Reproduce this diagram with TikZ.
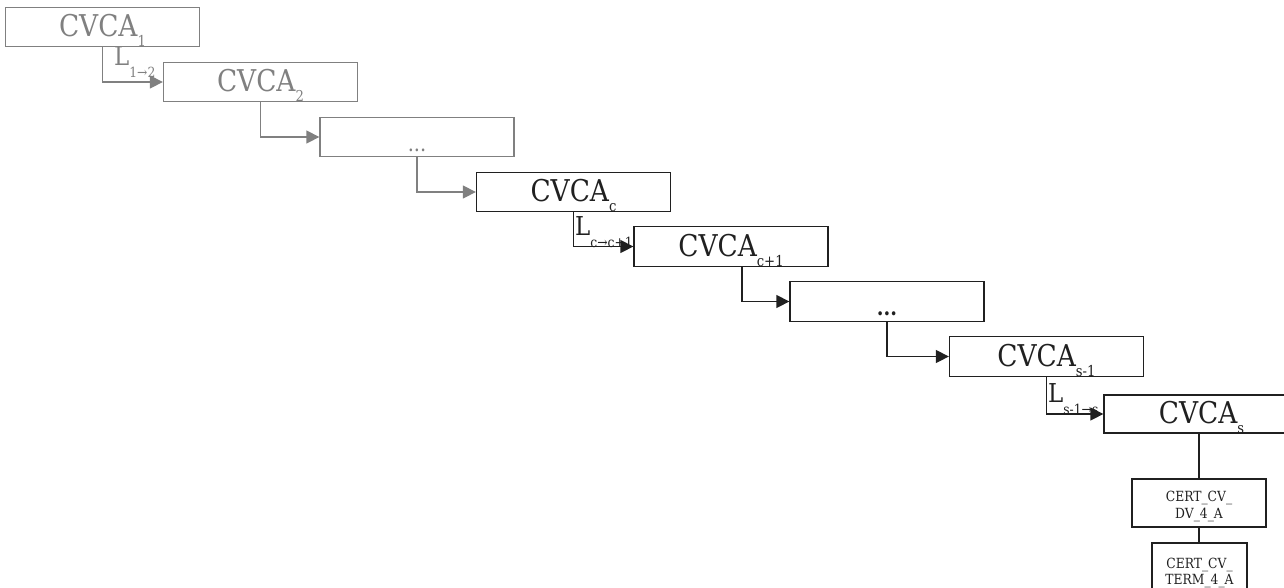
\documentclass[tikz,border=0pt]{standalone}
\usepackage{fontspec}
\setmainfont{DejaVu Serif}[FakeStretch=0.88]
\usetikzlibrary{arrows.meta}

\definecolor{faded}{HTML}{808080}
\definecolor{ink}{HTML}{202020}

% box caption: CVCA with a lowered index
\newcommand{\cvcaname}[1]{\fontsize{30}{30}\selectfont CVCA\raisebox{-10pt}{\fontsize{15}{15}\selectfont #1}}
% link label: L with a lowered index
\newcommand{\linkname}[1]{\fontsize{26}{26}\selectfont L\raisebox{-12pt}{\fontsize{14}{14}\selectfont #1}}
% tall invisible strut that pushes a two-line caption down a little
\newcommand{\capstrut}{\rule{0pt}{17pt}}

\tikzset{
  cabox/.style={draw, rectangle, inner sep=0pt, line width=1.3pt,
    minimum width=194pt, minimum height=39.5pt, text height=22pt, text depth=3pt},
  dotsbox/.style={cabox, text height=28pt, text depth=0pt, font=\fontsize{22}{22}\selectfont},
  certbox/.style={draw, rectangle, inner sep=0pt, line width=1.3pt, align=center,
    font=\fontsize{14}{16.5}\selectfont},
  linklabel/.style={inner sep=0pt, anchor=base west},
  chain/.style={line width=1.3pt, -{Triangle[length=13pt,width=13pt]}},
  plain/.style={line width=1.3pt},
  old/.style={draw=faded, text=faded},
  cur/.style={draw=ink, text=ink},
}

\begin{document}
\begin{tikzpicture}[x=1pt, y=-1pt]
\useasboundingbox (0,0) rectangle (1284,587);
\clip (0,0) rectangle (1284,587);

% chain of CVCA certificates
\node[cabox, old] (b1) at (102.5,27)  {\cvcaname{1}};
\node[cabox, old] (b2) at (260.5,82)  {\cvcaname{2}};
\node[dotsbox, old] (b3) at (417,137)  {...};
\node[cabox, cur] (b4) at (573.5,192) {\cvcaname{c}};
\node[cabox, cur] (b5) at (731,246.5) {\cvcaname{c+1}};
\node[dotsbox, cur, font=\fontsize{22}{22}\selectfont\bfseries] (b6) at (887,301.5) {...};
\node[cabox, cur] (b7) at (1046.5,356.5) {\cvcaname{s-1}};
\node[cabox, cur, minimum width=195pt, minimum height=38pt] (b8) at (1201.5,414) {\cvcaname{s}};

% certificates issued below the newest CVCA
\node[certbox, cur, minimum width=134pt, minimum height=48pt] (b9) at (1199,503) {\capstrut CERT\_CV\_\\DV\_4\_A};
\node[certbox, cur, minimum width=95pt, minimum height=60pt, font=\fontsize{14}{15.5}\selectfont] (b10) at (1199.5,573) {CERT\_CV\_\\TERM\_4\_A};

% link certificate labels
\node[linklabel, text=faded] (l1) at (114,65)  {\linkname{1→2}};
\node[linklabel, text=ink]   (l2) at (575,235) {\linkname{c→c+1}};
\node[linklabel, text=ink]   (l3) at (1048,402) {\linkname{s-1→s}};

% connectors
\draw[chain, faded] (b1.south) |- (b2.west);
\draw[chain, faded] (b2.south) |- (b3.west);
\draw[chain, faded] (b3.south) |- (b4.west);
\draw[chain, ink] (b4.south) |- (b5.west);
\draw[chain, ink] ([xshift=11pt]b5.south) |- (b6.west);
\draw[chain, ink] (b6.south) |- (b7.west);
\draw[chain, ink] (b7.south) |- (b8.west);
\draw[plain, ink] (b9.north |- b8.south) -- (b9.north);
\draw[plain, ink] (b9.south) -- (b9.south |- b10.north);
\end{tikzpicture}
\end{document}
